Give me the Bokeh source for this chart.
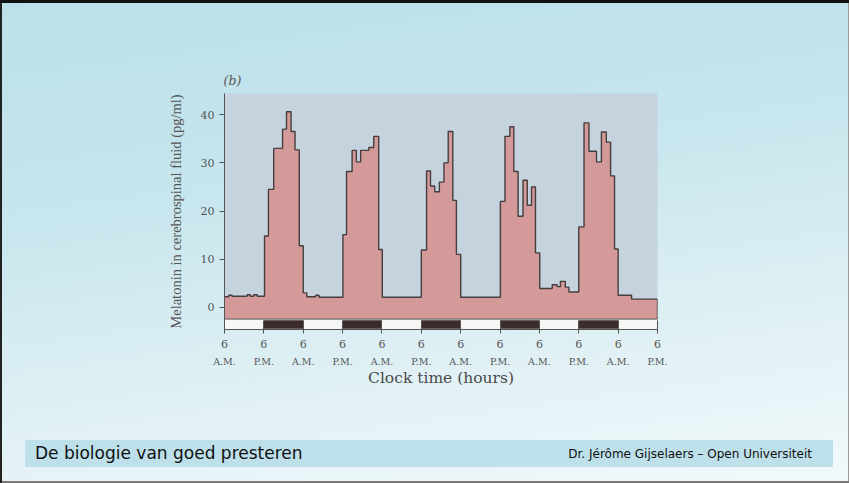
from bokeh.plotting import figure
from bokeh.models import LinearAxis, FixedTicker, Range1d, Div
from bokeh.layouts import column
from bokeh.embed import file_html
from bokeh.resources import INLINE

# ---------------- data ----------------
# melatonin step series: start hour of each step (hours after the first 6 A.M.) and level (pg/ml)
step_start = [0.0, 1.3, 2.3, 6.9, 7.9, 8.9, 10.0,
              12.2, 13.4, 15.0, 17.7, 18.9, 20.3, 21.5, 22.8, 24.0, 25.1, 27.8, 28.8,
              36.1, 37.2, 38.9, 40.2, 41.5, 44.0, 45.5, 47.0, 48.1,
              60.0, 61.6, 62.8, 64.1, 65.5, 66.9, 68.2, 69.6, 70.7, 72.0,
              84.1, 85.5, 87.0, 88.2, 89.5, 91.0, 92.3, 93.6, 94.8, 96.1, 99.9, 101.4, 102.4, 103.9, 105.0,
              108.0, 109.6, 111.1, 113.4, 114.9, 116.4, 117.7, 118.9, 120.0, 124.1]
step_value = [2.2, 2.5, 2.3, 2.6, 2.3, 2.6, 2.3,
              14.8, 24.5, 33.0, 37.0, 40.6, 36.5, 32.7, 12.8, 3.0, 2.2, 2.5, 2.1,
              15.1, 28.2, 32.6, 30.2, 32.6, 33.2, 35.5, 12.0, 2.1,
              11.9, 28.3, 25.2, 24.0, 26.0, 30.0, 36.5, 22.2, 11.0, 2.1,
              22.0, 35.5, 37.5, 28.2, 18.9, 26.4, 21.2, 25.0, 11.3, 3.9, 4.7, 4.3, 5.4, 4.2, 3.2,
              16.7, 38.3, 32.4, 30.2, 36.4, 34.3, 27.3, 12.1, 2.5, 1.7]
END_HOUR = 132

tick_hours = [0, 12, 24, 36, 48, 60, 72, 84, 96, 108, 120, 132]
tick_numbers = ["6", "6", "6", "6", "6", "6", "6", "6", "6", "6", "6", "6"]
tick_meridiem = ["A.M.", "P.M.", "A.M.", "P.M.", "A.M.", "P.M.",
                 "A.M.", "P.M.", "A.M.", "P.M.", "A.M.", "P.M."]
night_start = [12, 36, 60, 84, 108]
night_end = [24, 48, 72, 96, 120]
y_ticks = [0, 10, 20, 30, 40]

footer_title = "De biologie van goed presteren"
footer_author = "Dr. Jérôme Gijselaers – Open Universiteit"

FILL_BASE = -2.45
BAR_TOP = -2.55
BAR_BOTTOM = -4.6

# ---------------- layout ----------------
W, H = 849, 483
FOOT_H = 43
CH = H - FOOT_H
L, R, T = 224, 192, 93
B = CH - T - 236
Y_TOP = 44.4

SERIF = "Liberation Serif"
WIDE_SERIF = "DejaVu Serif"
GREY = "#555555"
LINE = "#463e3e"

p = figure(width=W, height=CH, output_backend="svg", toolbar_location=None,
           x_range=Range1d(0, END_HOUR), y_range=Range1d(BAR_BOTTOM, Y_TOP),
           min_border_left=L, min_border_right=R, min_border_top=T, min_border_bottom=B,
           background_fill_color="#c5d3df", border_fill_color=None,
           outline_line_color=None, x_axis_type=None, y_axis_type=None,
           title="(b)")
p.grid.visible = False
p.title.align = "left"
p.title.offset = -1
p.title.text_font = WIDE_SERIF
p.title.text_font_size = "12.5px"
p.title.text_font_style = "italic"
p.title.text_color = GREY
p.title.standoff = 12

# melatonin fill (single step-shaped area) and outline
xs = step_start + [END_HOUR]
ys = step_value + [step_value[-1]]
p.varea_step(x=xs, y1=[FILL_BASE] * len(xs), y2=ys, step_mode="after",
             fill_color="#d39a99")
p.step(x=xs, y=ys, mode="after", line_color=LINE, line_width=1.4)
p.segment(x0=[END_HOUR], y0=[FILL_BASE], x1=[END_HOUR], y1=[step_value[-1]],
          line_color=LINE, line_width=1.4)
p.segment(x0=[0], y0=[FILL_BASE], x1=[END_HOUR], y1=[FILL_BASE],
          line_color="#6a6262", line_width=1.2)

# light/dark bar
p.quad(left=[0], right=[END_HOUR], bottom=BAR_BOTTOM, top=BAR_TOP,
       fill_color="#f6f6f4", line_color=None)
p.quad(left=night_start, right=night_end, bottom=BAR_BOTTOM + 0.15, top=BAR_TOP - 0.15,
       fill_color="#3b2b2b", line_color=None)

# axes
ya = LinearAxis(ticker=FixedTicker(ticks=y_ticks), axis_label="Melatonin in cerebrospinal fluid (pg/ml)")
ya.axis_line_color = GREY
ya.major_tick_line_color = GREY
ya.major_tick_out = 5
ya.major_tick_in = 0
ya.minor_tick_line_color = None
ya.major_label_text_font = WIDE_SERIF
ya.major_label_text_font_size = "11px"
ya.major_label_text_color = GREY
ya.major_label_standoff = 5
ya.axis_label_text_font = SERIF
ya.axis_label_text_font_size = "14.5px"
ya.axis_label_text_font_style = "normal"
ya.axis_label_text_color = GREY
ya.axis_label_standoff = 14
p.add_layout(ya, "left")

xa = LinearAxis(ticker=FixedTicker(ticks=tick_hours),
                major_label_overrides={h: s for h, s in zip(tick_hours, tick_numbers)})
xa.axis_line_color = GREY
xa.major_tick_line_color = GREY
xa.major_tick_out = 4
xa.major_tick_in = 9
xa.minor_tick_line_color = None
xa.major_label_text_font = WIDE_SERIF
xa.major_label_text_font_size = "11px"
xa.major_label_text_color = GREY
xa.major_label_standoff = 6
p.add_layout(xa, "below")

xm = LinearAxis(ticker=FixedTicker(ticks=tick_hours),
                major_label_overrides={h: s for h, s in zip(tick_hours, tick_meridiem)},
                axis_label="Clock time (hours)")
xm.axis_line_color = None
xm.major_tick_line_color = None
xm.major_tick_out = 0
xm.major_tick_in = 0
xm.minor_tick_line_color = None
xm.major_label_text_font = WIDE_SERIF
xm.major_label_text_font_size = "9.5px"
xm.major_label_text_color = GREY
xm.major_label_standoff = 5
xm.axis_label_text_font = WIDE_SERIF
xm.axis_label_text_font_size = "15.5px"
xm.axis_label_text_font_style = "normal"
xm.axis_label_text_color = "#4a4a4a"
xm.axis_label_standoff = -1
p.add_layout(xm, "below")

# ---------------- footer band ----------------
footer_html = (
    '<div style="position:relative;width:%dpx;height:%dpx;margin:0;padding:0;">'
    '<div style="position:absolute;left:25px;top:0px;width:808px;height:27px;background:#bde0ea;"></div>'
    '<div style="position:absolute;left:35px;top:0px;height:27px;line-height:27px;'
    'font-family:\'DejaVu Sans\';font-size:17px;color:#111;white-space:nowrap;">%s</div>'
    '<div style="position:absolute;right:37px;top:1px;height:27px;line-height:27px;'
    'font-family:\'DejaVu Sans\';font-size:12px;color:#111;white-space:nowrap;">%s</div>'
    '</div>' % (W, FOOT_H, footer_title, footer_author)
)
footer = Div(text=footer_html, width=W, height=FOOT_H, styles={"margin": "0", "padding": "0"})

page = column(p, footer, spacing=0)
page.styles = {
    "background":
        "linear-gradient(#111,#111) left top / 100% 3px no-repeat,"
        "linear-gradient(#222,#222) left top / 2px 100% no-repeat,"
        "linear-gradient(#7a7a7a,#7a7a7a) left bottom / 100% 2px no-repeat,"
        "linear-gradient(#9a9a9a,#9a9a9a) right top / 1px 100% no-repeat,"
        "linear-gradient(172deg, #bce0e9 0%, #c6e5ed 35%, #dff0f4 70%, #f2f9fb 100%)"
}

open("out.html", "w").write(file_html(page, INLINE))
